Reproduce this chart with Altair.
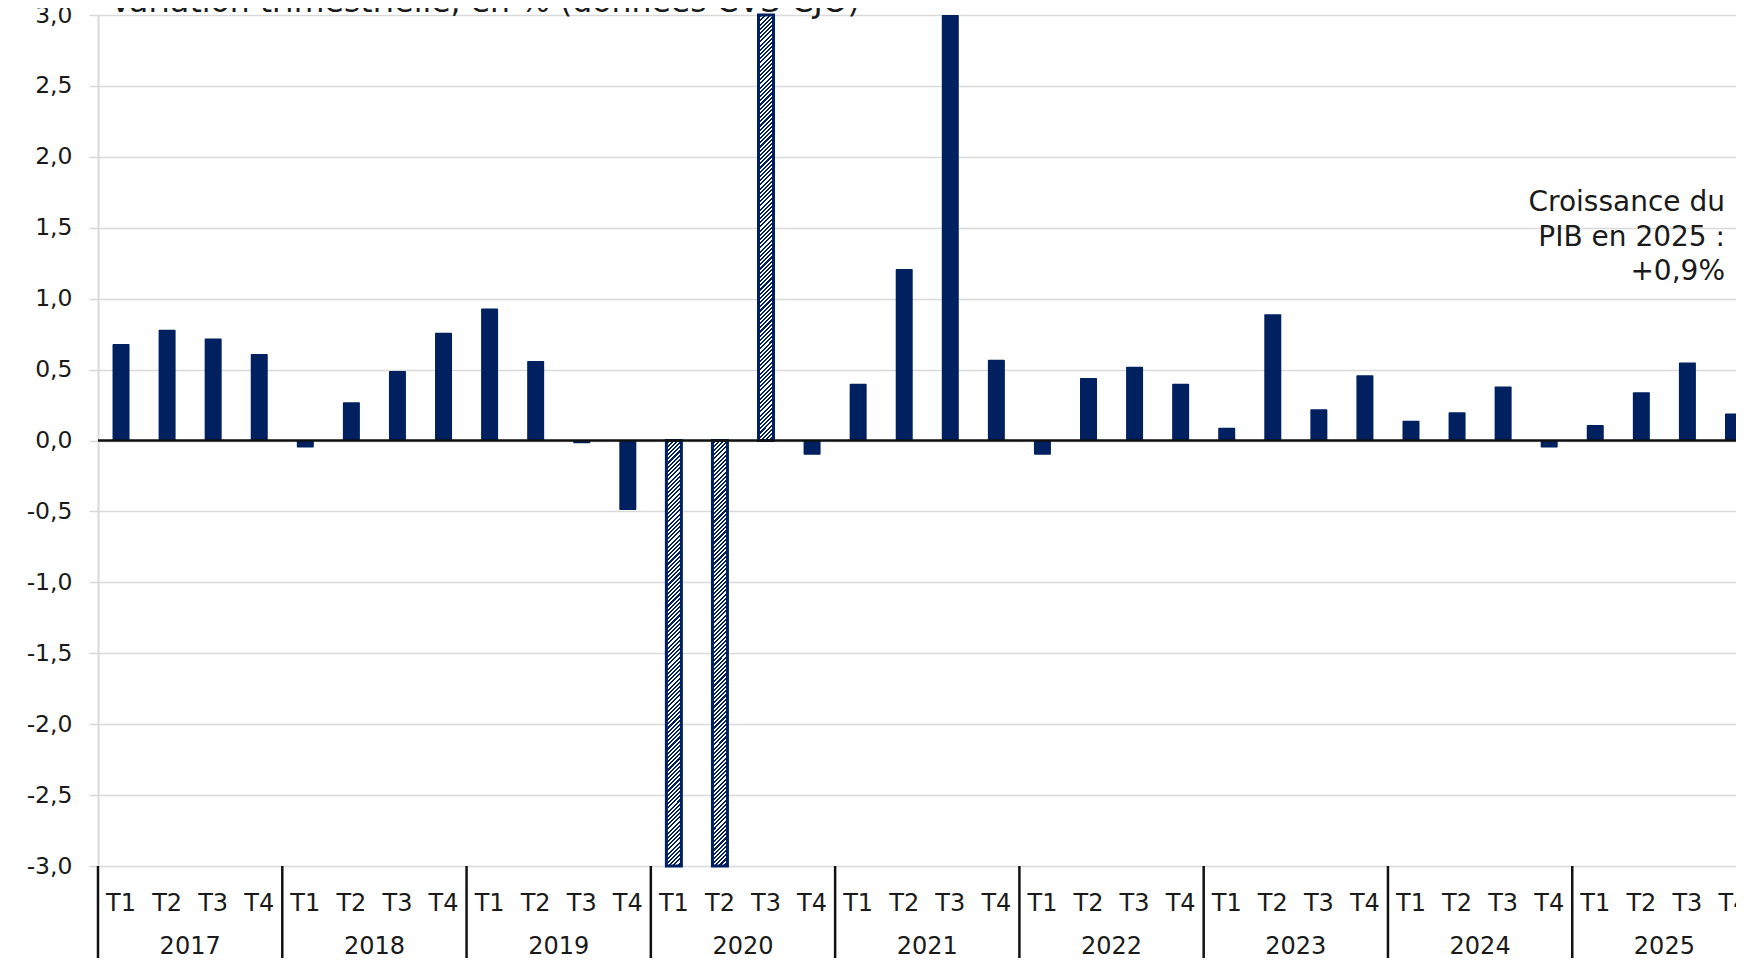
import altair as alt
import pandas as pd

# ---- data ----
years = ["2017", "2018", "2019", "2020", "2021", "2022", "2023", "2024", "2025"]
quarters = ["T1", "T2", "T3", "T4"]
values = [
    0.68, 0.78, 0.72, 0.61,     # 2017
    -0.05, 0.27, 0.49, 0.76,    # 2018
    0.93, 0.56, -0.02, -0.49,   # 2019
    -5.4, -13.5, 18.6, -0.10,   # 2020
    0.40, 1.21, 3.10, 0.57,     # 2021
    -0.10, 0.44, 0.52, 0.40,    # 2022
    0.09, 0.89, 0.22, 0.46,     # 2023
    0.14, 0.20, 0.38, -0.05,    # 2024
    0.11, 0.34, 0.55, 0.19,     # 2025
]
hatched = [False] * 12 + [True, True, True, False] + [False] * 20
title_text = "Variation trimestrielle, en % (données CVS-CJO)"
note_lines = ["Croissance du", "PIB en 2025 :", "+0,9%"]
y_ticks = [-3.0, -2.5, -2.0, -1.5, -1.0, -0.5, 0.0, 0.5, 1.0, 1.5, 2.0, 2.5, 3.0]

NAVY = "#002060"
FONT = "DejaVu Sans"
TXT = "#1a1a1a"
W, H = 1638, 851
QW = 46.07  # pixel width of one quarter slot

rows = []
for yi, yr in enumerate(years):
    for qi, q in enumerate(quarters):
        i = yi * 4 + qi
        rows.append({"pos": i + 0.5, "quarter": q, "year": yr,
                     "value": values[i], "hatched": hatched[i]})
df = pd.DataFrame(rows)
df_solid = df[~df["hatched"]]
df_hatch = df[df["hatched"]]
df_years = pd.DataFrame({"year": years, "center": [4 * k + 2 for k in range(len(years))]})
df_bounds = pd.DataFrame({"b": [4 * k for k in range(len(years) + 1)]})

xscale = alt.Scale(domain=[0, W / QW], nice=False, zero=False, padding=0)
yscale = alt.Scale(domain=[-3, 3], nice=False, clamp=True, padding=0)

# diagonal hatch pattern via a striped linear gradient
bw, bh, k = 15.0, 425.0, 1.0
L = k * bw + bh
A, B = k * bw / L, bh / L
den = A * A + B * B
P = 4.2
nper = int(L / P) + 1
stops = []
for j in range(nper):
    t0 = j * P / L
    t1 = (j * P + P * 0.5) / L
    t2 = (j + 1) * P / L
    if t0 > 1:
        break
    stops += [{"offset": min(t0, 1), "color": "#ffffff"},
              {"offset": min(t1, 1), "color": "#ffffff"},
              {"offset": min(t1, 1), "color": NAVY},
              {"offset": min(t2, 1), "color": NAVY}]
gradient = {"gradient": "linear", "x1": 0, "y1": 0,
            "x2": A / den, "y2": B / den, "stops": stops}

yaxis = alt.Axis(values=y_ticks, title=None, grid=True, gridColor="#d9d9d9",
                 gridWidth=1.5, domainColor="#d9d9d9", domainWidth=2,
                 tickColor="#d9d9d9", tickSize=9, tickWidth=1.5,
                 labelFont=FONT, labelFontSize=23.5, labelColor=TXT,
                 labelPadding=17,
                 labelExpr="replace(replace(format(datum.value, '.1f'), '.', ','), '\u2212', '-')")

solid = alt.Chart(df_solid).mark_bar(size=17, color=NAVY, cornerRadius=1).encode(
    x=alt.X("pos:Q", scale=xscale, axis=None),
    y=alt.Y("value:Q", scale=yscale, axis=yaxis, stack=None),
)
hatch = alt.Chart(df_hatch).mark_bar(size=15, fill=gradient, stroke=NAVY, strokeWidth=3).encode(
    x=alt.X("pos:Q", scale=xscale, axis=None),
    y=alt.Y("value:Q", scale=yscale, stack=None),
)
zero = alt.Chart(df.head(1)).mark_rule(color="#111111", strokeWidth=2.5).encode(
    y=alt.datum(0, scale=yscale)
)
qlabels = alt.Chart(df).mark_text(font=FONT, fontSize=24, color=TXT,
                                  baseline="middle", align="center").encode(
    x=alt.X("pos:Q", scale=xscale, axis=None),
    y=alt.value(889),
    text="quarter:N",
)
ylabels = alt.Chart(df_years).mark_text(font=FONT, fontSize=24, color=TXT,
                                        baseline="middle", align="center").encode(
    x=alt.X("center:Q", scale=xscale, axis=None),
    y=alt.value(932),
    text="year:N",
)
seps = alt.Chart(df_bounds).mark_rule(color="#111111", strokeWidth=2.5).encode(
    x=alt.X("b:Q", scale=xscale, axis=None),
    y=alt.value(H),
    y2=alt.value(H + 110),
)
note = alt.Chart(pd.DataFrame({"t": ["\n".join(note_lines)]})).mark_text(
    font=FONT, fontSize=28, color=TXT, align="right", baseline="alphabetic",
    lineBreak="\n", lineHeight=34.5).encode(
    x=alt.value(1627), y=alt.value(196), text="t:N")
title = alt.Chart(pd.DataFrame({"t": [title_text]})).mark_text(
    font=FONT, fontSize=31.5, color=TXT, align="left", baseline="alphabetic").encode(
    x=alt.value(12), y=alt.value(-3), text="t:N")

chart = alt.layer(solid, hatch, zero, qlabels, ylabels, seps, note, title).properties(
    width=W, height=H,
    padding={"left": 90, "top": 7, "right": 0, "bottom": 92},
    autosize=alt.AutoSizeParams(type="none"),
).configure_view(stroke=None).configure(background="white")

chart.save("out.html", embed_options={"renderer": "svg", "actions": False})
